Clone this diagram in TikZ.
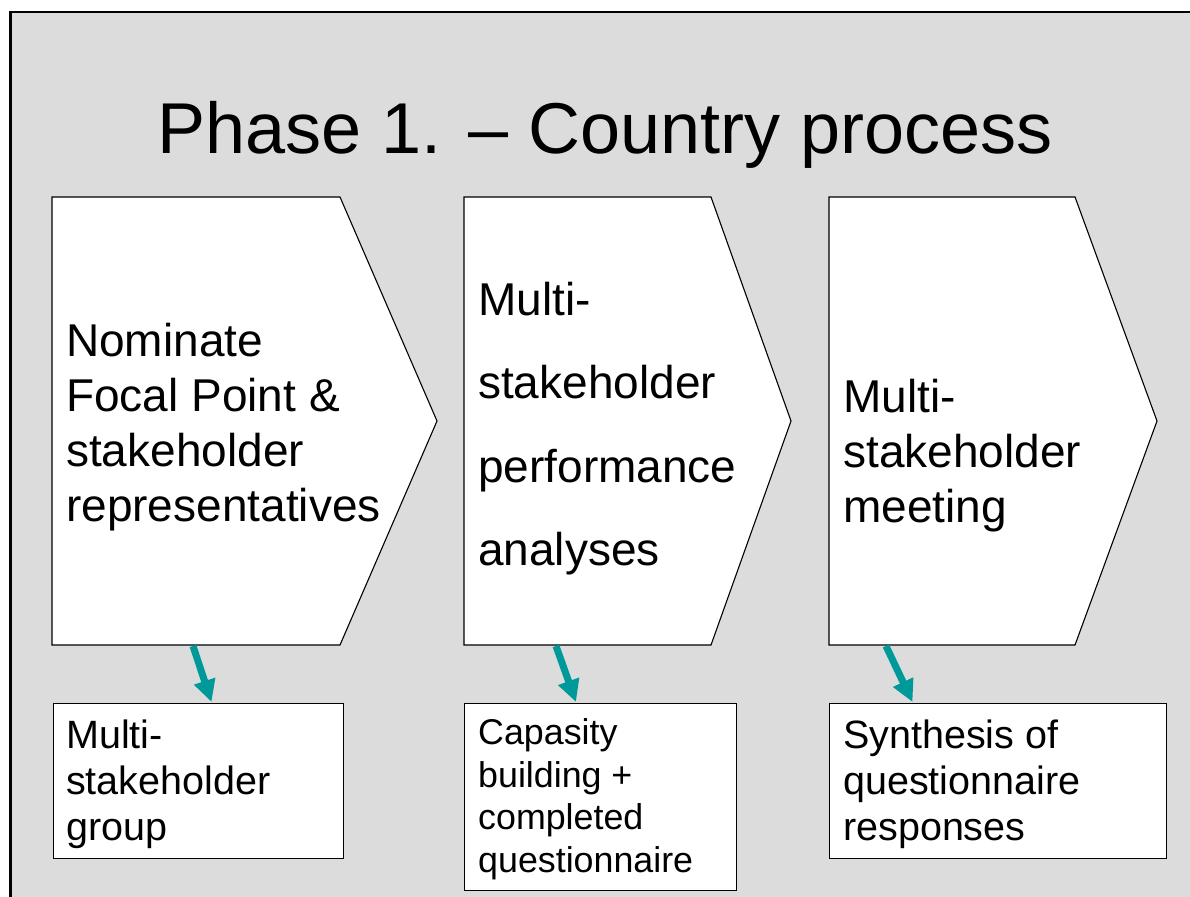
\documentclass[tikz,border=0pt]{standalone}
\usepackage{fontspec}
\setmainfont{Liberation Sans}
\usetikzlibrary{arrows.meta}
\definecolor{bggray}{HTML}{DCDCDC}
\definecolor{tealarrow}{HTML}{009999}
\tikzset{
  chev/.style={draw=black, fill=white, line width=1.1pt, line join=miter},
  outbox/.style={draw=black, fill=white, line width=1.3pt, rectangle, anchor=north west, inner sep=0pt},
  bigtxt/.style={anchor=base west, inner sep=0pt, font=\fontsize{46}{55}\selectfont},
  smalltxt/.style={anchor=base west, inner sep=0pt, font=\fontsize{39.5}{46}\selectfont},
  tinytxt/.style={anchor=base west, inner sep=0pt, font=\fontsize{35.8}{42}\selectfont},
  titletxt/.style={anchor=base west, inner sep=0pt, font=\fontsize{72}{86}\selectfont},
  flow/.style={draw=tealarrow, line width=7pt, -{Triangle[length=22pt 0,width=21pt 0]}, fill=tealarrow}
}
\begin{document}
\begin{tikzpicture}[x=1pt,y=-1pt]
\useasboundingbox (0,0) rectangle (1190,896);
% frame
\draw[fill=bggray, line width=2.6pt] (10.5,12) rectangle (1200,910);
% title
\node[titletxt] (title) at (157,154) {Phase 1. – Country process};
% chevrons
\draw[chev] (52,197) -- (340,197) -- (437,421) -- (340,645) -- (52,645) -- cycle;
\draw[chev] (464,197) -- (711,197) -- (791,421) -- (711,645) -- (464,645) -- cycle;
\draw[chev] (829,197) -- (1075,197) -- (1157,421) -- (1075,645) -- (829,645) -- cycle;
% chevron texts
\node[bigtxt] (c1a) at (66,356) {Nominate};
\node[bigtxt] (c1b) at (66,411) {Focal Point \&};
\node[bigtxt] (c1c) at (66,466) {stakeholder};
\node[bigtxt] (c1d) at (66,521) {representatives};
\node[bigtxt] (c2a) at (478,315) {Multi-};
\node[bigtxt] (c2b) at (478,398) {stakeholder};
\node[bigtxt] (c2c) at (478,482) {performance};
\node[bigtxt] (c2d) at (478,565) {analyses};
\node[bigtxt] (c3a) at (843,412) {Multi-};
\node[bigtxt] (c3b) at (843,467) {stakeholder};
\node[bigtxt] (c3c) at (843,522) {meeting};
% output boxes
\node[outbox, minimum width=290pt, minimum height=155pt] (b1) at (52.5,702.5) {};
\node[outbox, minimum width=272pt, minimum height=187pt] (b2) at (464,702.5) {};
\node[outbox, minimum width=337pt, minimum height=155pt] (b3) at (829,702.5) {};
\node[smalltxt] (b1a) at (66,748) {Multi-};
\node[smalltxt] (b1b) at (66,794) {stakeholder};
\node[smalltxt] (b1c) at (66,840) {group};
\node[tinytxt] (b2a) at (478,744) {Capasity};
\node[tinytxt] (b2b) at (478,787) {building +};
\node[tinytxt] (b2c) at (478,829) {completed};
\node[tinytxt] (b2d) at (478,872) {questionnaire};
\node[smalltxt] (b3a) at (843,748) {Synthesis of};
\node[smalltxt] (b3b) at (843,794) {questionnaire};
\node[smalltxt] (b3c) at (843,840) {responses};
% arrows
\coordinate (s1) at (193,646);
\coordinate (s2) at (556,646);
\coordinate (s3) at (886,646);
\coordinate (e1) at (211.5,702);
\coordinate (e2) at (576,702);
\coordinate (e3) at (912.5,702);
\draw[flow] (s1) -- (e1);
\draw[flow] (s2) -- (e2);
\draw[flow] (s3) -- (e3);
\end{tikzpicture}
\end{document}
